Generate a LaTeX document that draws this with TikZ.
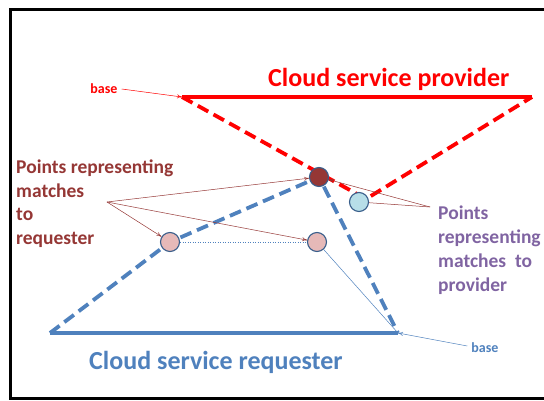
\documentclass[tikz,border=0pt]{standalone}
\usepackage{fontspec}
\setmainfont{Carlito}
\usetikzlibrary{arrows.meta}
\definecolor{pred}{HTML}{FF0000}
\definecolor{rblue}{HTML}{4F81BD}
\definecolor{dred}{HTML}{953735}
\definecolor{purp}{HTML}{8064A2}
\definecolor{pinkf}{HTML}{E6B9B8}
\definecolor{lblue}{HTML}{B7DEE8}
\definecolor{cedge}{HTML}{385D8A}
\tikzset{
  pt/.style={circle,draw=cedge,line width=1.1pt,minimum size=19pt,inner sep=0pt},
  thickdash/.style={line width=3.8pt,dash pattern=on 12pt off 6pt},
  baseline/.style={line width=4pt},
  pointer/.style={line width=0.5pt,-{To[length=5pt,width=4pt]}},
  lbl/.style={font=\bfseries,inner sep=0pt,align=left},
}
\begin{document}
\begin{tikzpicture}[x=1pt,y=-1pt]
\useasboundingbox (0,0) rectangle (544,401);
% frame
\draw[line width=3pt] (548,10) -- (10,10) -- (10,398) -- (548,398);
% coordinates
\coordinate (pL) at (182,97);
\coordinate (pR) at (532,97);
\coordinate (pV) at (366,199);
\coordinate (rL) at (50,333);
\coordinate (rR) at (398,333);
\coordinate (mC) at (319,177);
\coordinate (q1C) at (170,242);
% provider lines
\draw[pred,baseline] (pL) -- (pR);
\draw[pred,thickdash] (pL) -- (pV) -- (pR);
% requester lines
\draw[rblue,baseline] (rL) -- (rR);
\draw[rblue,thickdash] (rL) -- (q1C) -- (mC) -- (rR);
% points
\node[pt,fill=pinkf] (q1) at (q1C) {};
\node[pt,fill=pinkf] (q2) at (317,242) {};
\node[pt,fill=lblue] (pv) at (359,202) {};
\node[pt,fill=dred] (m) at (mC) {};
% thin connectors between points
\draw[rblue,line width=0.5pt,dotted] (q1) -- (q2);
\draw[rblue,line width=0.5pt] (q2) -- (rR);
% labels
\node[lbl,pred,font=\bfseries\fontsize{26}{30}\selectfont,anchor=base west] (provt) at (268,87) {Cloud service provider};
\node[lbl,rblue,font=\bfseries\fontsize{26}{30}\selectfont,anchor=base west] (reqt) at (89,369) {Cloud service requester};
\node[lbl,pred,font=\bfseries\fontsize{14}{16}\selectfont] (bR) at (104,89) {base};
\node[lbl,rblue,font=\bfseries\fontsize{14}{16}\selectfont] (bB) at (485,348) {base};
\draw[pred,pointer] (bR.east) ++(4,0) coordinate (bRs) -- (pL);
\draw[rblue,pointer] (bB.west) ++(-4,-2) coordinate (bBs) -- (rR);
\node[lbl,dred,font=\bfseries\fontsize{19.5}{23.5}\selectfont,anchor=north west] (reql) at (16,160) {Points representing\\matches\\to\\requester};
\node[lbl,purp,font=\bfseries\fontsize{19.5}{23.8}\selectfont,anchor=north west] (provl) at (438,206) {Points\\representing\\matches\ \ to\\provider};
% pointers
\coordinate (rs) at (107,202);
\draw[dred,pointer] (rs) -- (m);
\draw[dred,pointer] (rs) -- (q2);
\draw[dred,pointer] (rs) -- (q1);
\coordinate (ps) at (430,207);
\draw[dred,pointer] (ps) -- (m);
\draw[dred,line width=0.5pt] (ps) -- (pv);
\end{tikzpicture}
\end{document}
